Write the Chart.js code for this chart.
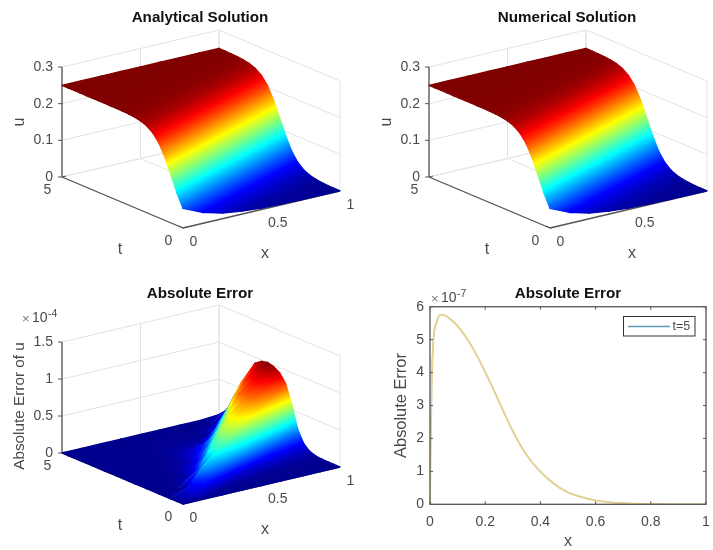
<!DOCTYPE html>
<html>
<head>
<meta charset="utf-8">
<style>
  html, body { margin: 0; background: #fff; }
  canvas { position: absolute; filter: blur(0.5px); }
</style>
<script src="https://cdn.jsdelivr.net/npm/chart.js@4"></script>
</head>
<body>
<canvas id="analytical" style="left:0;top:0" width="367" height="276"></canvas>
<canvas id="numerical" style="left:367px;top:0" width="346" height="276"></canvas>
<canvas id="surfaceError" style="left:0;top:276px" width="367" height="274"></canvas>
<canvas id="lineError" style="left:380px;top:275px" width="333" height="275"></canvas>
<script>
// grid of the surfaces
const xGrid = [0, 0.125, 0.25, 0.375, 0.5, 0.625, 0.75, 0.875, 1];
const tGrid = [0, 0.25, 0.5, 0.75, 1, 1.25, 1.5, 1.75, 2, 2.25, 2.5, 2.75, 3, 3.25, 3.5, 3.75, 4, 4.25, 4.5, 4.75, 5];

// u, one row per t
const uRows = [
  [.0535, .0298, .0157, .0081, .0041, .002, .001, .0005, .0003],
  [.0886, .0535, .0298, .0157, .0081, .0041, .002, .001, .0005],
  [.1312, .0886, .0535, .0298, .0157, .0081, .0041, .002, .001],
  [.1725, .1312, .0886, .0535, .0298, .0157, .0081, .0041, .002],
  [.2044, .1725, .1312, .0886, .0535, .0298, .0157, .0081, .0041],
  [.225, .2044, .1725, .1312, .0886, .0535, .0298, .0157, .0081],
  [.237, .225, .2044, .1725, .1312, .0886, .0535, .0298, .0157],
  [.2434, .237, .225, .2044, .1725, .1312, .0886, .0535, .0298],
  [.2467, .2434, .237, .225, .2044, .1725, .1312, .0886, .0535],
  [.2483, .2467, .2434, .237, .225, .2044, .1725, .1312, .0886],
  [.2492, .2483, .2467, .2434, .237, .225, .2044, .1725, .1312],
  [.2496, .2492, .2483, .2467, .2434, .237, .225, .2044, .1725],
  [.2498, .2496, .2492, .2483, .2467, .2434, .237, .225, .2044],
  [.2499, .2498, .2496, .2492, .2483, .2467, .2434, .237, .225],
  [.25, .2499, .2498, .2496, .2492, .2483, .2467, .2434, .237],
  [.25, .25, .2499, .2498, .2496, .2492, .2483, .2467, .2434],
  [.25, .25, .25, .2499, .2498, .2496, .2492, .2483, .2467],
  [.25, .25, .25, .25, .2499, .2498, .2496, .2492, .2483],
  [.25, .25, .25, .25, .25, .2499, .2498, .2496, .2492],
  [.25, .25, .25, .25, .25, .25, .2499, .2498, .2496],
  [.25, .25, .25, .25, .25, .25, .25, .2499, .2498],
];

// absolute error of u in units of 1e-4, one row per t
const errRows = [
  [0, 0, 0, 0, 0, 0, 0, 0, 0],
  [0, .099, .003, .001, 0, 0, 0, 0, 0],
  [0, .106, .179, .026, .006, .003, .001, 0, 0],
  [0, .017, .308, .252, .061, .02, .008, .005, .003],
  [0, .002, .191, .419, .322, .114, .047, .022, .01],
  [0, 0, .077, .421, .516, .389, .164, .08, .04],
  [0, 0, .031, .269, .555, .597, .454, .214, .11],
  [0, 0, .012, .148, .511, .661, .673, .518, .27],
  [0, 0, .003, .082, .344, .658, .756, .75, .58],
  [0, 0, .001, .043, .222, .57, .783, .844, .82],
  [0, 0, 0, .022, .139, .389, .78, .884, .93],
  [0, 0, 0, .013, .089, .235, .7, .89, .98],
  [0, 0, 0, .004, .056, .127, .5, .86, 1],
  [0, 0, 0, .002, .033, .06, .28, .76, .98],
  [0, 0, 0, 0, .022, .027, .12, .58, .92],
  [0, 0, 0, 0, .012, .013, .016, .38, .75],
  [0, 0, 0, 0, .006, .007, 0, .18, .55],
  [0, 0, 0, 0, .003, .003, 0, .06, .38],
  [0, 0, 0, 0, .001, 0, 0, .01, .22],
  [0, 0, 0, 0, 0, 0, 0, 0, .1],
  [0, 0, 0, 0, 0, 0, 0, 0, .02],
];

// error curve at t=5, in units of 1e-7
const lineX = [0, .002, .006, .012, .024, .036, .048, .06, .097, .133, .169, .205, .242, .278, .314, .35, .4, .447, .495, .543, .604, .664, .737, .81, .906, 1];
const lineErr = [0, 1.6, 3.6, 4.94, 5.54, 5.74, 5.76, 5.71, 5.44, 5.04, 4.53, 3.93, 3.27, 2.61, 2.0, 1.5, .99, .64, .38, .23, .11, .05, .02, .01, 0, 0];

// ticks
const xTicks = [0, 0.5, 1];
const tTicks = [0, 5];
const uTicks = [0, 0.1, 0.2, 0.3];
const errTicks = [0, 0.5, 1, 1.5];
const lineXTicks = [0, 0.2, 0.4, 0.6, 0.8, 1];
const lineYTicks = [0, 1, 2, 3, 4, 5, 6];

const FONT = '"Liberation Sans", Arial, sans-serif';
const TICK_COLOR = '#4a4a4a';
const GRID_COLOR = '#e3e3e3';
const AXIS_COLOR = '#555555';

const JET = [
  [0, 0, 0, 143], [1 / 8, 0, 0, 255], [3 / 8, 0, 255, 255],
  [5 / 8, 255, 255, 0], [7 / 8, 255, 0, 0], [1, 128, 0, 0],
];

function jet(v) {
  v = Math.min(1, Math.max(0, v));
  for (let i = 1; i < JET.length; i++) {
    if (v <= JET[i][0]) {
      const a = JET[i - 1], b = JET[i];
      const f = (v - a[0]) / (b[0] - a[0]);
      return `rgb(${[1, 2, 3].map((c) => Math.round(a[c] + (b[c] - a[c]) * f)).join(',')})`;
    }
  }
  return 'rgb(128,0,0)';
}

// view of the 3d box, all three surface panels share it
function project(x, t, z, zPerUnit) {
  return { x: 183 + 157 * x - 121 * t / 5, y: 228 - 37 * x - 51 * t / 5 - z * zPerUnit };
}

// colour of one triangle: the whole jet ramp laid along the slope of its plane,
// so that neighbouring triangles agree along the shared edge
function triangleColor(chart, pts, vals, cmax) {
  const sx = chart.scales.x, sy = chart.scales.y;
  const p = pts.map((d) => [sx.getPixelForValue(d.x), sy.getPixelForValue(d.y)]);
  const area = (p[1][0] - p[0][0]) * (p[2][1] - p[0][1]) - (p[2][0] - p[0][0]) * (p[1][1] - p[0][1]);
  const lo = Math.min(...vals), hi = Math.max(...vals);
  if (!Number.isFinite(area)) return null; // scales not laid out yet
  if (Math.abs(area) < 0.5 || hi - lo < 1e-5 * cmax) return jet((lo + hi) / 2 / cmax);
  const a = ((vals[1] - vals[0]) * (p[2][1] - p[0][1]) - (vals[2] - vals[0]) * (p[1][1] - p[0][1])) / area;
  const b = ((p[1][0] - p[0][0]) * (vals[2] - vals[0]) - (p[2][0] - p[0][0]) * (vals[1] - vals[0])) / area;
  const slope2 = a * a + b * b;
  const base = p[vals.indexOf(lo)];
  const g = chart.ctx.createLinearGradient(
    base[0] - a * lo / slope2, base[1] - b * lo / slope2,
    base[0] + a * (cmax - lo) / slope2, base[1] + b * (cmax - lo) / slope2,
  );
  JET.forEach((s) => g.addColorStop(s[0], `rgb(${s[1]},${s[2]},${s[3]})`));
  return g;
}

function triangleDataset(corners, cmax, zPerUnit) {
  const vals = corners.map((c) => c[2]);
  const pts = corners.map((c) => project(c[0], c[1], c[2], zPerUnit));
  let color = null;
  const getColor = (ctx) => {
    if (!color) color = triangleColor(ctx.chart, pts, vals, cmax);
    return color || 'rgba(0,0,0,0)';
  };
  return {
    data: [...pts, pts[0]],
    showLine: true,
    pointRadius: 0,
    fill: 'shape',
    // wide enough that no white shows through between two triangles,
    // round joins so thin triangles grow no spikes on the outline
    borderWidth: 1.3,
    borderJoinStyle: 'round',
    borderCapStyle: 'round',
    borderColor: getColor,
    backgroundColor: getColor,
  };
}

function segment(from, to, color, width) {
  return { data: [from, to], showLine: true, pointRadius: 0, fill: false, borderColor: color, borderWidth: width };
}

function surfaceDatasets(rows, zTicks, cmax, zPerUnit) {
  const sets = [];
  // first dataset is painted last, so nearest cells come first
  for (let j = 0; j < tGrid.length - 1; j++) {
    for (let i = 0; i < xGrid.length - 1; i++) {
      const c = (a, b) => [xGrid[a], tGrid[b], rows[b][a]];
      sets.push(triangleDataset([c(i, j), c(i + 1, j), c(i + 1, j + 1)], cmax, zPerUnit));
      sets.push(triangleDataset([c(i, j), c(i + 1, j + 1), c(i, j + 1)], cmax, zPerUnit));
    }
  }
  const p = (x, t, z) => project(x, t, z, zPerUnit);
  const zTop = zTicks[zTicks.length - 1];
  // dark axes
  sets.push(segment(p(0, 5, 0), p(0, 5, zTop), AXIS_COLOR, 1.3));
  sets.push(segment(p(0, 5, 0), p(0, 0, 0), AXIS_COLOR, 1.3));
  sets.push(segment(p(0, 0, 0), p(1, 0, 0), AXIS_COLOR, 1.3));
  zTicks.forEach((z) => {
    const a = p(0, 5, z);
    sets.push(segment(a, { x: a.x - 4, y: a.y }, AXIS_COLOR, 1));
  });
  xTicks.forEach((x) => {
    const a = p(x, 0, 0);
    sets.push(segment(a, { x: a.x - 4, y: a.y - 2 }, AXIS_COLOR, 1));
  });
  tTicks.forEach((t) => {
    const a = p(0, t, 0);
    sets.push(segment(a, { x: a.x + 4, y: a.y - 1 }, AXIS_COLOR, 1));
  });
  // grid on the floor and the two back walls
  zTicks.forEach((z) => {
    sets.push(segment(p(0, 5, z), p(1, 5, z), GRID_COLOR, 1));
    sets.push(segment(p(1, 5, z), p(1, 0, z), GRID_COLOR, 1));
  });
  xTicks.forEach((x) => {
    sets.push(segment(p(x, 5, 0), p(x, 5, zTop), GRID_COLOR, 1));
    sets.push(segment(p(x, 5, 0), p(x, 0, 0), GRID_COLOR, 1));
  });
  tTicks.forEach((t) => {
    sets.push(segment(p(1, t, 0), p(1, t, zTop), GRID_COLOR, 1));
    sets.push(segment(p(0, t, 0), p(1, t, 0), GRID_COLOR, 1));
  });
  return sets;
}

function textPlugin(items) {
  return {
    id: 'panelText',
    afterDraw(chart) {
      const ctx = chart.ctx;
      items.forEach((it) => {
        ctx.save();
        ctx.font = it.font;
        ctx.fillStyle = it.color || TICK_COLOR;
        ctx.textAlign = it.align || 'center';
        ctx.textBaseline = 'middle';
        ctx.translate(it.x, it.y);
        if (it.rot) ctx.rotate(it.rot);
        ctx.fillText(it.text, 0, 0);
        ctx.restore();
      });
    },
  };
}

function exponentItems(x, y, power) {
  return [
    { text: '×', x, y: y + 1, font: `13px ${FONT}`, align: 'left', color: '#777' },
    { text: '10', x: x + 10, y, font: `14px ${FONT}`, align: 'left' },
    { text: power, x: x + 26, y: y - 4, font: `10.5px ${FONT}`, align: 'left' },
  ];
}

function surfaceChart(id, title, zLabel, rows, zTicks, zTickText, cmax, zPerUnit, extras) {
  const canvas = document.getElementById(id);
  const items = [
    { text: title, x: 200, y: 17.5, font: `bold 15.2px ${FONT}`, color: '#111' },
    { text: 't', x: 120, y: 250, font: `16px ${FONT}` },
    { text: 'x', x: 265, y: 254, font: `16px ${FONT}` },
    { text: zLabel.text, x: 20, y: zLabel.y, font: `${zLabel.size}px ${FONT}`, rot: -Math.PI / 2 },
  ];
  zTicks.forEach((z, k) => {
    const a = project(0, 5, z, zPerUnit);
    items.push({ text: zTickText[k], x: 53, y: a.y, font: `14px ${FONT}`, align: 'right' });
  });
  tTicks.forEach((t) => {
    const a = project(0, t, 0, zPerUnit);
    items.push({ text: String(t), x: a.x - 14.5, y: a.y + 13, font: `14px ${FONT}` });
  });
  xTicks.forEach((x) => {
    const a = project(x, 0, 0, zPerUnit);
    items.push({ text: String(x), x: a.x + 6.5, y: a.y + 14, font: `14px ${FONT}`, align: 'left' });
  });
  return new Chart(canvas, {
    type: 'scatter',
    data: { datasets: surfaceDatasets(rows, zTicks, cmax, zPerUnit) },
    options: {
      responsive: false,
      animation: false,
      events: [],
      layout: { padding: 0 },
      plugins: { legend: { display: false }, tooltip: { enabled: false }, colors: { enabled: false } },
      scales: {
        x: { type: 'linear', display: false, min: 0, max: canvas.width },
        y: { type: 'linear', display: false, min: 0, max: canvas.height, reverse: true },
      },
    },
    plugins: [textPlugin(items.concat(extras || []))],
  });
}

const U_PER_UNIT = 110 / 0.3;
const ERR_PER_UNIT = 111 / 1.5;
const uTickText = ['0', '0.1', '0.2', '0.3'];
const errTickText = ['0', '0.5', '1', '1.5'];

surfaceChart('analytical', 'Analytical Solution', { text: 'u', y: 122, size: 16 }, uRows, uTicks, uTickText, 0.25, U_PER_UNIT);
surfaceChart('numerical', 'Numerical Solution', { text: 'u', y: 122, size: 16 }, uRows, uTicks, uTickText, 0.25, U_PER_UNIT);
surfaceChart('surfaceError', 'Absolute Error', { text: 'Absolute Error of u', y: 130, size: 15.3 }, errRows, errTicks, errTickText, 1, ERR_PER_UNIT, exponentItems(22, 42, '-4'));

const boxPlugin = {
  id: 'matlabBox',
  afterDatasetsDraw(chart) {
    const { ctx, chartArea: a, scales } = chart;
    ctx.save();
    ctx.strokeStyle = AXIS_COLOR;
    ctx.lineWidth = 1.3;
    ctx.strokeRect(a.left, a.top, a.right - a.left, a.bottom - a.top);
    ctx.lineWidth = 1;
    ctx.beginPath();
    lineXTicks.forEach((v) => {
      const x = scales.x.getPixelForValue(v);
      ctx.moveTo(x, a.bottom); ctx.lineTo(x, a.bottom - 3);
      ctx.moveTo(x, a.top); ctx.lineTo(x, a.top + 3);
    });
    lineYTicks.forEach((v) => {
      const y = scales.y.getPixelForValue(v);
      ctx.moveTo(a.left, y); ctx.lineTo(a.left + 3, y);
      ctx.moveTo(a.right, y); ctx.lineTo(a.right - 3, y);
    });
    ctx.stroke();
    // legend box inside the axes
    const ds = chart.data.datasets[1];
    ctx.fillStyle = '#fff';
    ctx.fillRect(243.5, 41.5, 71.5, 19.5);
    ctx.strokeStyle = '#333';
    ctx.strokeRect(243.5, 41.5, 71.5, 19.5);
    ctx.strokeStyle = '#5f9db5';
    ctx.lineWidth = 1.4;
    ctx.beginPath();
    ctx.moveTo(248, 51.5); ctx.lineTo(290, 51.5);
    ctx.stroke();
    ctx.fillStyle = TICK_COLOR;
    ctx.font = `12.5px ${FONT}`;
    ctx.textBaseline = 'middle';
    ctx.fillText(ds.label, 292.5, 52);
    ctx.restore();
  },
};

const linePoints = lineX.map((x, i) => ({ x, y: lineErr[i] }));

new Chart(document.getElementById('lineError'), {
  type: 'scatter',
  data: {
    datasets: [
      { label: 'overlay', data: linePoints, showLine: true, pointRadius: 0, borderColor: '#edd584', borderWidth: 1.2, cubicInterpolationMode: 'monotone' },
      { label: 't=5', data: linePoints, showLine: true, pointRadius: 0, borderColor: '#c9c4a0', borderWidth: 1.8, cubicInterpolationMode: 'monotone' },
    ],
  },
  options: {
    responsive: false,
    animation: false,
    events: [],
    layout: { padding: { right: 7 } },
    plugins: {
      legend: { display: false },
      tooltip: { enabled: false },
      title: {
        display: true,
        text: 'Absolute Error',
        color: '#111',
        fullSize: false,
        font: { family: FONT, size: 15.2, weight: 'bold', lineHeight: 1.2 },
        padding: { top: 10, bottom: 3.5 },
      },
    },
    scales: {
      x: {
        type: 'linear',
        min: 0,
        max: 1,
        afterBuildTicks: (s) => { s.ticks = lineXTicks.map((value) => ({ value })); },
        afterFit: (s) => { s.height = 45.7; s.paddingRight = 0; s.paddingLeft = 0; },
        grid: { display: false, drawTicks: false },
        border: { display: false },
        ticks: { color: TICK_COLOR, font: { family: FONT, size: 14 }, padding: 9, maxRotation: 0, callback: (v) => String(v) },
        title: { display: true, text: 'x', color: TICK_COLOR, font: { family: FONT, size: 16, lineHeight: 1 }, padding: 0 },
      },
      y: {
        type: 'linear',
        min: 0,
        max: 6,
        afterBuildTicks: (s) => { s.ticks = lineYTicks.map((value) => ({ value })); },
        afterFit: (s) => { s.width = 50; s.paddingTop = 0; s.paddingBottom = 0; },
        grid: { display: false, drawTicks: false },
        border: { display: false },
        ticks: { color: TICK_COLOR, font: { family: FONT, size: 14 }, padding: 6 },
        title: { display: true, text: 'Absolute Error', color: TICK_COLOR, font: { family: FONT, size: 16.4, lineHeight: 1.2 }, padding: { top: 12, bottom: 12 } },
      },
    },
  },
  plugins: [boxPlugin, textPlugin(exponentItems(51, 23, '-7'))],
});
</script>
</body>
</html>
